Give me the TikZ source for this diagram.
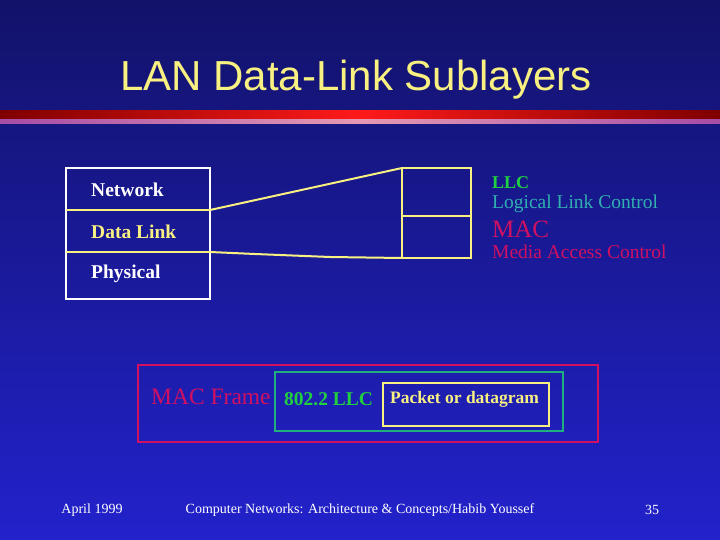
\documentclass[tikz,border=0pt]{standalone}
\usepackage{fontspec}
\setmainfont{Liberation Serif}
\newfontfamily\titlefont{Liberation Sans}
\definecolor{bgtop}{HTML}{12126A}
\definecolor{bgbot}{HTML}{2222CC}
\definecolor{ylw}{HTML}{F8F080}
\definecolor{llcg}{HTML}{20D040}
\definecolor{teal}{HTML}{30B0B0}
\definecolor{macr}{HTML}{D01060}
\definecolor{grn}{HTML}{20B080}
\begin{document}
\begin{tikzpicture}[x=1pt,y=-1pt,
  lbl/.style={anchor=west,inner sep=0pt,font=\bfseries\fontsize{19.5}{22}\selectfont},
  rl/.style={anchor=west,inner sep=0pt},
  ft/.style={inner sep=0pt,white,font=\fontsize{14}{16}\selectfont}]
\shade[top color=bgtop,bottom color=bgbot] (0,0) rectangle (720,540);
\useasboundingbox (0,0) rectangle (720,540);
\node[ylw,font=\titlefont\fontsize{42}{46}\selectfont] (title) at (356,80) {LAN Data-Link Sublayers};
\shade[left color=red!50!black,right color=red!50!black,middle color=red!90!white] (0,111) rectangle (720,119);
\shade[left color=violet!70,right color=violet!70,middle color=pink!80!violet] (0,120) rectangle (720,124);
% left stack
\draw[white,line width=2pt] (66,168) rectangle (210,299);
\draw[ylw,line width=2pt] (66,210) -- (210,210) (66,252) -- (210,252);
\node[lbl,white] (net) at (91,190) {Network};
\node[lbl,ylw] (dl) at (91,232) {Data Link};
\node[lbl,white] (phy) at (91,274) {Physical};
% right stack
\draw[ylw,line width=2pt] (402,168) rectangle (471,258);
\draw[ylw,line width=2pt] (402,216) -- (471,216);
\coordinate (a1) at (210,210); \coordinate (b1) at (402,168);
\coordinate (a2) at (210,252); \coordinate (b2) at (402,258);
\draw[ylw,line width=2pt] (a1) -- (b1);
\draw[ylw,line width=2pt] (a2) -- (255,254) -- (330,257) -- (b2);
\node[rl,llcg,font=\bfseries\fontsize{18}{20}\selectfont] (llc) at (492,183) {LLC};
\node[rl,teal,font=\fontsize{19.5}{22}\selectfont] (llcl) at (492,204) {Logical Link Control};
\node[rl,macr,font=\fontsize{25}{28}\selectfont] (mac) at (492,229) {MAC};
\node[rl,macr,font=\fontsize{19.5}{22}\selectfont] (macl) at (492,252) {Media Access Control};
% frame
\draw[macr,line width=2pt] (138,365) rectangle (598,442);
\draw[grn,line width=2pt] (275,372) rectangle (563,431);
\draw[ylw,line width=2pt] (383,383) rectangle (549,426);
\node[rl,macr,font=\fontsize{23.5}{25}\selectfont] (mf) at (151,397) {MAC Frame};
\node[rl,llcg,font=\bfseries\fontsize{19.5}{21}\selectfont] (l2) at (284,399) {802.2 LLC};
\node[rl,ylw,font=\bfseries\fontsize{17.5}{19}\selectfont] (pk) at (390,399) {Packet or datagram};
% footer
\node[ft] (f1) at (92,510) {April 1999};
\node[ft] (f2) at (360,510) {Computer Networks: Architecture \& Concepts/Habib Youssef};
\node[ft] (f3) at (652,510) {35};
\end{tikzpicture}
\end{document}
